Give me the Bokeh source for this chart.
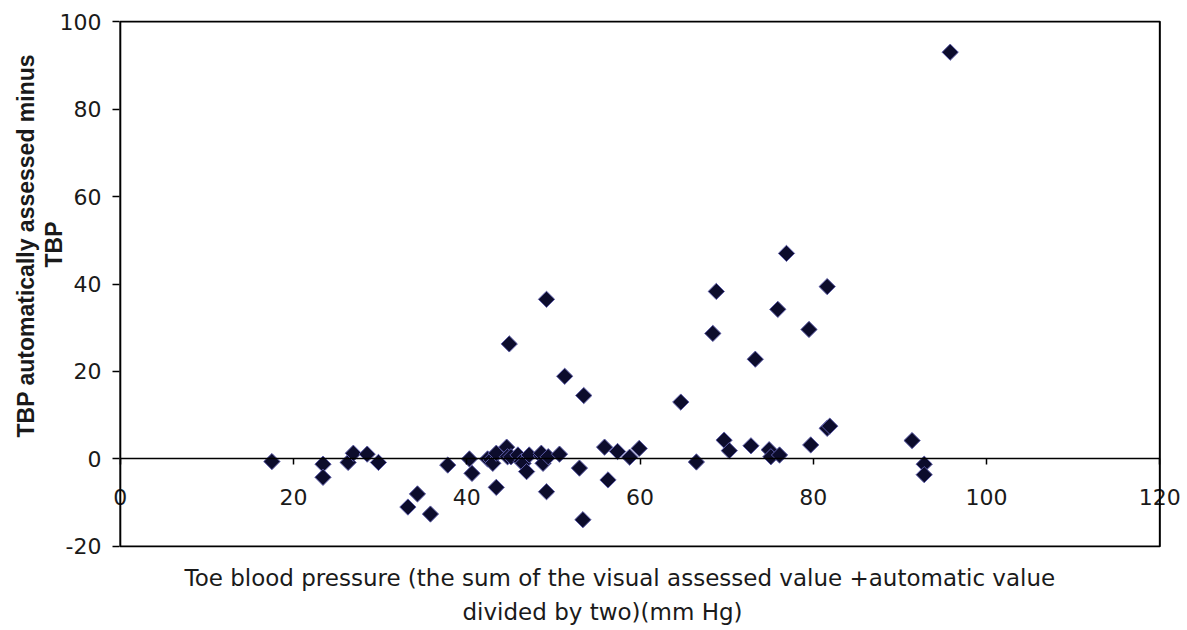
import numpy as np
from bokeh.plotting import figure
from bokeh.models import FixedTicker, Range1d, BoxAnnotation, Title
from bokeh.embed import file_html
from bokeh.resources import INLINE

# Toe blood pressure (mean of visual + automatic), mm Hg
toe_bp = [17.5, 23.4, 23.4, 26.3, 26.9, 28.5, 29.8, 33.2, 34.3, 35.8,
          37.8, 40.3, 40.6, 42.4, 42.8, 43.0, 43.4, 43.4, 44.6, 44.7,
          45.1, 44.9, 45.9, 46.3, 46.5, 46.9, 47.2, 48.6, 48.6, 48.8,
          49.2, 49.4, 49.2, 50.7, 51.3, 53.0, 53.4, 53.5, 55.9, 56.3,
          57.4, 58.8, 59.9, 64.7, 66.5, 68.4, 68.8, 69.7, 70.3, 72.8,
          73.3, 74.9, 75.1, 76.1, 75.9, 76.9, 79.5, 79.7, 81.6, 81.9,
          81.6, 91.4, 92.8, 92.8, 95.8]
# TBP automatically assessed minus TBP
tbp_diff = [-0.6, -1.2, -4.2, -0.8, 1.3, 1.1, -0.8, -11.0, -8.0, -12.6,
            -1.4, 0.0, -3.3, 0.0, -0.2, -1.0, 1.3, -6.5, 2.7, 0.5,
            0.5, 26.3, 0.9, -0.6, -1.0, -2.9, 0.9, 0.7, 1.3, -1.0,
            -7.5, 0.5, 36.5, 1.1, 18.9, -2.1, -13.9, 14.5, 2.7, -4.8,
            1.7, 0.4, 2.4, 13.0, -0.7, 28.7, 38.3, 4.3, 1.9, 3.0,
            22.8, 2.1, 0.5, 0.9, 34.2, 47.0, 29.6, 3.2, 7.0, 7.5,
            39.4, 4.2, -1.2, -3.6, 93.0]

x_ticks = [0, 20, 40, 60, 80, 100, 120]
y_ticks = [-20, 0, 20, 40, 60, 80, 100]
y_tick_labels = ["-20", "0", "20", "40", "60", "80", "100"]

y_title_lines = ["TBP automatically assessed minus", "TBP"]
x_title_lines = ["Toe blood pressure (the sum of the visual assessed value +automatic value",
                 "divided by two)(mm Hg)"]

# the frame is a little wider than the 0-120 box so that the end tick labels show whole
p = figure(width=1187, height=630,
           x_range=Range1d(-0.9, 122.5), y_range=Range1d(-20.25, 100.25),
           output_backend="svg", toolbar_location=None,
           min_border_left=111, min_border_right=6,
           min_border_top=20, min_border_bottom=83)

p.background_fill_color = "white"
p.border_fill_color = "white"
p.grid.visible = False
p.outline_line_color = None

# plot-area box from 0..120 / -20..100
p.add_layout(BoxAnnotation(left=x_ticks[0], right=x_ticks[-1],
                           bottom=y_ticks[0], top=y_ticks[-1],
                           fill_color=None, fill_alpha=0,
                           line_color="black", line_alpha=1.0, line_width=2))

# x axis drawn through y = 0
xa = p.xaxis[0]
xa.fixed_location = 0
xa.bounds = (x_ticks[0], x_ticks[-1])
xa.ticker = FixedTicker(ticks=x_ticks)
xa.axis_line_color = "black"
xa.axis_line_width = 1.5
xa.major_tick_line_color = "black"
xa.major_tick_line_width = 1.5
xa.major_tick_out = 6
xa.major_tick_in = 0
xa.minor_tick_line_color = None
xa.major_label_standoff = 24
xa.major_label_text_font = "DejaVu Sans"
xa.major_label_text_font_size = "22px"
xa.major_label_text_color = "#1a1a1a"

ya = p.yaxis[0]
ya.ticker = FixedTicker(ticks=y_ticks)
ya.major_label_overrides = dict(zip(y_ticks, y_tick_labels))
ya.axis_line_color = None
ya.major_tick_line_color = "black"
ya.major_tick_line_width = 1.5
ya.major_tick_out = 0
ya.major_tick_in = 7
ya.minor_tick_line_color = None
ya.major_label_standoff = 11
ya.major_label_text_font = "DejaVu Sans"
ya.major_label_text_font_size = "22px"
ya.major_label_text_color = "#1a1a1a"

# axis titles (one Title per line so each line sits where the reference has it)
p.add_layout(Title(text=x_title_lines[0], align="left", offset=72, standoff=31,
                   text_font="DejaVu Sans", text_font_size="23px",
                   text_font_style="normal", text_color="#1a1a1a"), "below")
p.add_layout(Title(text=x_title_lines[1], align="left", offset=350, standoff=-37,
                   text_font="DejaVu Sans", text_font_size="23px",
                   text_font_style="normal", text_color="#1a1a1a"), "below")
p.add_layout(Title(text=y_title_lines[1], align="left", offset=280, standoff=-20,
                   text_font="Liberation Sans", text_font_size="23px",
                   text_font_style="bold", text_color="#1a1a1a"), "left")
p.add_layout(Title(text=y_title_lines[0], align="left", offset=110, standoff=20,
                   text_font="Liberation Sans", text_font_size="23px",
                   text_font_style="bold", text_color="#1a1a1a"), "left")

p.scatter(toe_bp, tbp_diff, marker="square", angle=np.pi / 4, size=11.5,
          fill_color="#0c0c2c", line_color="#5d5da8", line_width=1)

open("out.html", "w").write(file_html(p, INLINE))
